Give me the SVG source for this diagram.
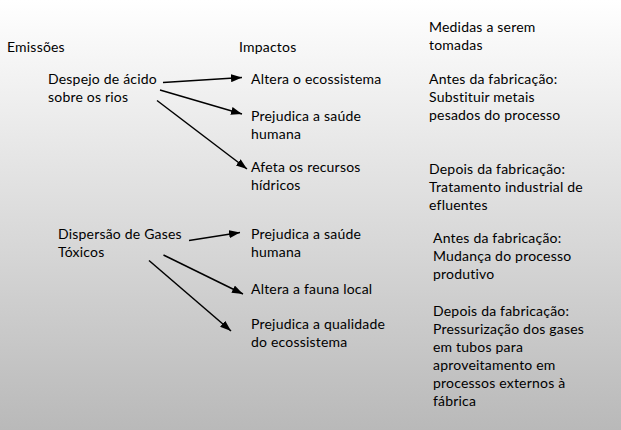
<svg xmlns="http://www.w3.org/2000/svg" width="621" height="430" viewBox="0 0 621 430">
<defs>
<linearGradient id="bg" x1="0" y1="0" x2="0" y2="1">
<stop offset="0" stop-color="#ffffff"/>
<stop offset="1" stop-color="#b9b9b9"/>
</linearGradient>
<marker id="ah" viewBox="0 0 11 8" refX="11" refY="4" markerWidth="11" markerHeight="8" markerUnits="userSpaceOnUse" orient="auto">
<path d="M0,0 L11,4 L0,8 Z" fill="#000"/>
</marker>
<style>
text{font-family:"Lato","Open Sans","DejaVu Sans",sans-serif;font-size:14px;letter-spacing:0.2px;fill:#000}
.c line{stroke:#000;stroke-width:1.5;marker-end:url(#ah)}
</style>
</defs>
<rect width="621" height="430" fill="url(#bg)"/>
<g id="headers">
<text x="7" y="52">Emissões</text>
<text x="239" y="52">Impactos</text>
<text x="429" y="32">Medidas a serem</text>
<text x="429" y="50">tomadas</text>
</g>
<g id="e1"><text x="48" y="84">Despejo de ácido</text><text x="48" y="102">sobre os rios</text></g>
<g id="e2"><text x="58" y="239">Dispersão de Gases</text><text x="58" y="257">Tóxicos</text></g>
<g id="i1"><text x="251" y="84">Altera o ecossistema</text></g>
<g id="i2"><text x="251" y="121">Prejudica a saúde</text><text x="251" y="139">humana</text></g>
<g id="i3"><text x="251" y="172">Afeta os recursos</text><text x="251" y="190">hídricos</text></g>
<g id="i4"><text x="251" y="239">Prejudica a saúde</text><text x="251" y="257">humana</text></g>
<g id="i5"><text x="251" y="294">Altera a fauna local</text></g>
<g id="i6"><text x="251" y="329">Prejudica a qualidade</text><text x="251" y="347">do ecossistema</text></g>
<g id="m1"><text x="429" y="84">Antes da fabricação:</text><text x="429" y="102">Substituir metais</text><text x="429" y="120">pesados do processo</text></g>
<g id="m2"><text x="429" y="174">Depois da fabricação:</text><text x="429" y="192">Tratamento industrial de</text><text x="429" y="210">efluentes</text></g>
<g id="m3"><text x="433" y="243">Antes da fabricação:</text><text x="433" y="261">Mudança do processo</text><text x="433" y="279">produtivo</text></g>
<g id="m4"><text x="433" y="316">Depois da fabricação:</text><text x="433" y="334">Pressurização dos gases</text><text x="433" y="352">em tubos para</text><text x="433" y="370">aproveitamento em</text><text x="433" y="388">processos externos à</text><text x="433" y="406">fábrica</text></g>
<g id="connectors" class="c">
<line x1="163" y1="82.5" x2="242" y2="77.5"/>
<line x1="160" y1="90" x2="242" y2="114"/>
<line x1="157" y1="100.5" x2="247" y2="169"/>
<line x1="189" y1="240.5" x2="240" y2="232.5"/>
<line x1="163.5" y1="255" x2="243" y2="294"/>
<line x1="149" y1="260.5" x2="231" y2="331"/>
</g>
</svg>
